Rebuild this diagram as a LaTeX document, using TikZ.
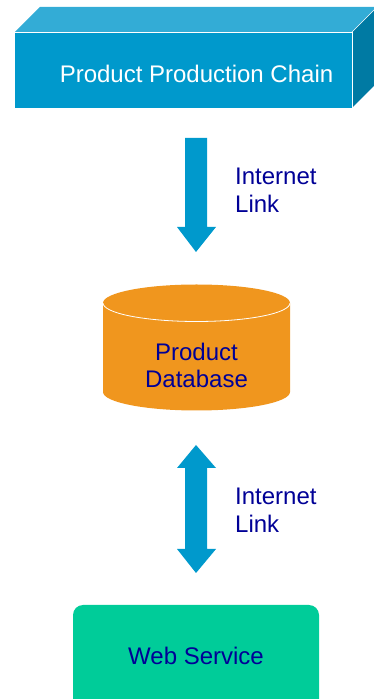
\documentclass[tikz,border=0pt]{standalone}
\usepackage{fontspec}
\setmainfont{Liberation Sans}
\definecolor{frontc}{RGB}{0,153,204}
\definecolor{topc}{RGB}{51,172,214}
\definecolor{rightc}{RGB}{0,122,163}
\definecolor{arrowc}{RGB}{0,153,204}
\definecolor{dbc}{RGB}{240,150,30}
\definecolor{webc}{RGB}{0,204,153}
\definecolor{labc}{RGB}{0,0,150}
\tikzset{
  lbl/.style={font=\fontsize{24}{28}\selectfont, text=labc, inner sep=0pt},
  blockarrow/.style={fill=arrowc, draw=none},
}
\begin{document}
\begin{tikzpicture}[x=1pt,y=1pt]
\useasboundingbox (0,0) rectangle (374,699);
\clip (0,0) rectangle (374,699);
% 3D box: Product Production Chain
\fill[topc] (15,667) -- (40,692) -- (377,692) -- (352,667) -- cycle;
\fill[rightc] (352,667) -- (377,692) -- (377,616) -- (352,591) -- cycle;
\fill[frontc] (15,591) rectangle (352,667);
\draw[white, line width=0.7pt] (15,667) -- (352,667) -- (352,591);
\draw[white, line width=0.7pt] (352,667) -- (377,692);
\node[font=\fontsize{24}{28}\selectfont, text=white, inner sep=0pt, anchor=base] (chain) at (196.5,616) {Product Production Chain};
% arrow 1
\fill[blockarrow] (185,561) -- (207,561) -- (207,472) -- (216,472) -- (196,447) -- (177,472) -- (185,472) -- cycle;
\node[lbl, align=left, anchor=west] (link1) at (235,508.5) {Internet\\Link};
% cylinder
\fill[dbc] (103,396) -- (103,307) arc[start angle=180, end angle=360, x radius=93.5, y radius=18.5] -- (290,396) arc[start angle=0, end angle=180, x radius=93.5, y radius=18.5] -- cycle;
\draw[white, line width=0.8pt] (103,396) arc[start angle=180, end angle=360, x radius=93.5, y radius=18.5];
\node[lbl, align=center, font=\fontsize{24}{27.5}\selectfont] (db) at (196.5,333.5) {Product\\Database};
% arrow 2
\fill[blockarrow] (196,254) -- (216,231) -- (207,231) -- (207,150) -- (216,150) -- (196,126) -- (177,150) -- (185,150) -- (185,231) -- (177,231) -- cycle;
\node[lbl, align=left, anchor=west] (link2) at (235,188.5) {Internet\\Link};
% web service
\fill[webc, rounded corners=10pt] (73,-15) rectangle (319,94);
\node[lbl] (web) at (196,43) {Web Service};
\end{tikzpicture}
\end{document}
